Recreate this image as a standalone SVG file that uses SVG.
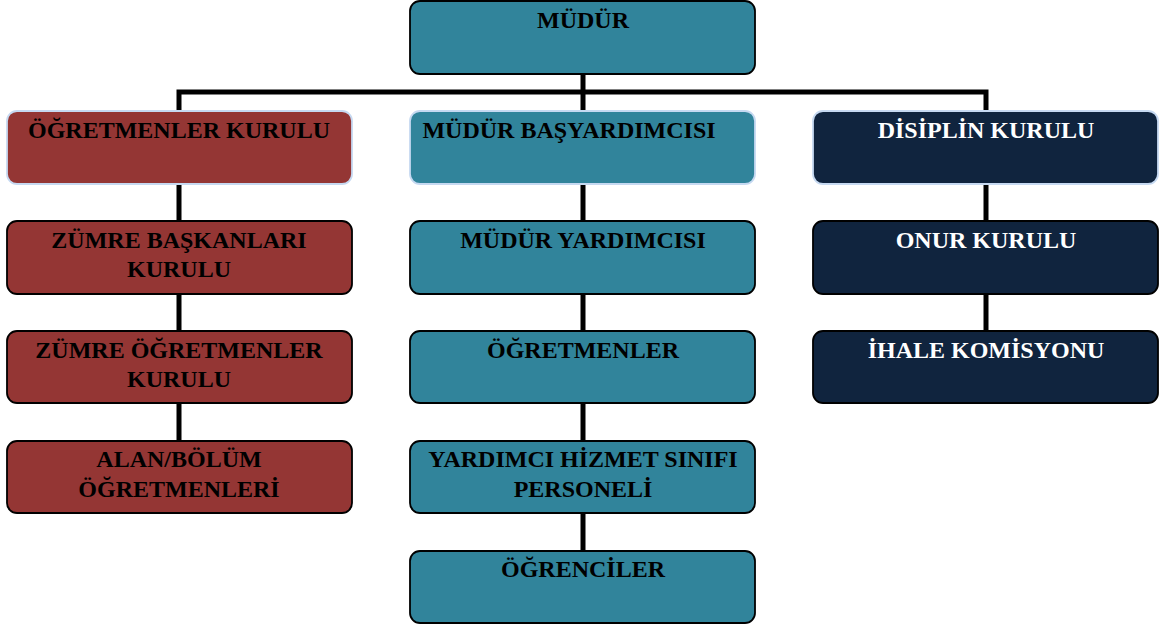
<svg xmlns="http://www.w3.org/2000/svg" width="1169" height="626" viewBox="0 0 1169 626">
<style>
.box{stroke:#000;stroke-width:1.8}
.top{stroke:#c6d9f1;stroke-width:1.8}
.red{fill:#943634}
.teal{fill:#31849b}
.navy{fill:#10243e}
.t{font-family:"Liberation Serif","Times New Roman",serif;font-weight:bold;font-size:24px;text-anchor:middle;fill:#000}
.w{fill:#fff}
.c{stroke:#000;stroke-width:5;fill:none}
</style>
<rect width="1169" height="626" fill="#fff"/>
<g id="connectors">
<path class="c" d="M583 74V111M179 111V92H986V111"/>
<path class="c" d="M179 184V221M179 294V331M179 403V441"/>
<path class="c" d="M583 184V221M583 294V331M583 403V441M583 513V551"/>
<path class="c" d="M986 184V221M986 294V331"/>
</g>
<g id="mudur"><rect class="box teal" x="410" y="1" width="345" height="73" rx="10"/><text class="t" x="583" y="28">MÜDÜR</text></g>
<g id="ogretmenler-kurulu"><rect class="top red" x="7" y="111" width="345" height="73" rx="10"/><text class="t" x="179" y="138">ÖĞRETMENLER KURULU</text></g>
<g id="mudur-basyardimcisi"><rect class="top teal" x="410" y="111" width="345" height="73" rx="10"/><text class="t" x="569" y="138">MÜDÜR BAŞYARDIMCISI</text></g>
<g id="disiplin-kurulu"><rect class="top navy" x="813" y="111" width="345" height="73" rx="10"/><text class="t w" x="986" y="138">DİSİPLİN KURULU</text></g>
<g id="zumre-baskanlari"><rect class="box red" x="7" y="221" width="345" height="73" rx="10"/><text class="t" x="179" y="248">ZÜMRE BAŞKANLARI</text><text class="t" x="179" y="277">KURULU</text></g>
<g id="zumre-ogretmenler"><rect class="box red" x="7" y="331" width="345" height="72" rx="10"/><text class="t" x="179" y="358">ZÜMRE ÖĞRETMENLER</text><text class="t" x="179" y="387">KURULU</text></g>
<g id="alan-bolum"><rect class="box red" x="7" y="441" width="345" height="72" rx="10"/><text class="t" x="179" y="467">ALAN/BÖLÜM</text><text class="t" x="179" y="497">ÖĞRETMENLERİ</text></g>
<g id="mudur-yardimcisi"><rect class="box teal" x="410" y="221" width="345" height="73" rx="10"/><text class="t" x="583" y="248">MÜDÜR YARDIMCISI</text></g>
<g id="ogretmenler"><rect class="box teal" x="410" y="331" width="345" height="72" rx="10"/><text class="t" x="583" y="358">ÖĞRETMENLER</text></g>
<g id="yardimci-hizmet"><rect class="box teal" x="410" y="441" width="345" height="72" rx="10"/><text class="t" x="583" y="467">YARDIMCI HİZMET SINIFI</text><text class="t" x="583" y="497">PERSONELİ</text></g>
<g id="ogrenciler"><rect class="box teal" x="410" y="551" width="345" height="72" rx="10"/><text class="t" x="583" y="577">ÖĞRENCİLER</text></g>
<g id="onur-kurulu"><rect class="box navy" x="813" y="221" width="345" height="73" rx="10"/><text class="t w" x="986" y="248">ONUR KURULU</text></g>
<g id="ihale-komisyonu"><rect class="box navy" x="813" y="331" width="345" height="72" rx="10"/><text class="t w" x="986" y="358">İHALE KOMİSYONU</text></g>
</svg>
